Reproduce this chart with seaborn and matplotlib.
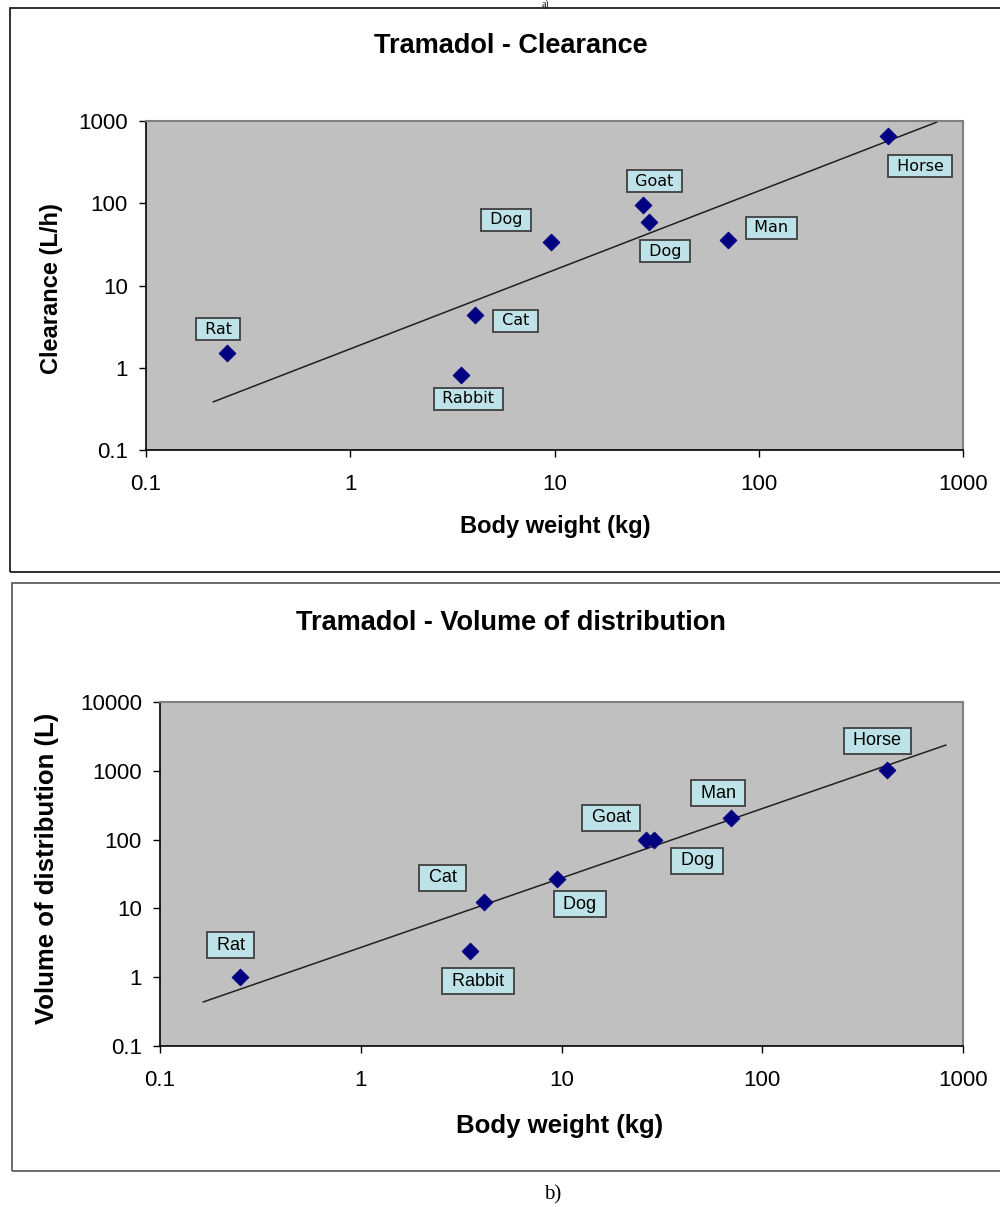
import matplotlib
matplotlib.use("Agg")
import matplotlib.pyplot as plt
import seaborn as sns
import pandas as pd
from matplotlib.patches import Rectangle

# ---------------- data ----------------
species = ["Rat", "Rabbit", "Cat", "Dog", "Goat", "Dog", "Man", "Horse"]

bw_cl = [0.25, 3.5, 4.1, 9.6, 27, 29, 71, 430]
clearance = [1.5, 0.82, 4.4, 34, 95, 59, 36, 657]
trend_cl_x = [0.213, 746]
trend_cl_y = [0.384, 972]

bw_vd = [0.25, 3.5, 4.1, 9.5, 26.5, 29, 70, 420]
vol_dist = [1.0, 2.4, 12.4, 26.7, 99, 99, 206, 1030]
trend_vd_x = [0.164, 823]
trend_vd_y = [0.436, 2371]

x_ticks = [0.1, 1, 10, 100, 1000]
x_tick_labels = ["0.1", "1", "10", "100", "1000"]
y_ticks_cl = [0.1, 1, 10, 100, 1000]
y_tick_labels_cl = ["0.1", "1", "10", "100", "1000"]
y_ticks_vd = [0.1, 1, 10, 100, 1000, 10000]
y_tick_labels_vd = ["0.1", "1", "10", "100", "1000", "10000"]

# label offsets (pixels) relative to each point
off_cl = [(-9, 24), (7, -24), (40, -6), (-45, 22), (12, 24), (16, -29), (43, 12), (32, -30)]
off_vd = [(-9, 32), (8, -30), (-41, 24), (23, -25), (-35, 22), (43, -21), (-13, 25), (-10, 29)]

# ---------------- style ----------------
sns.set_style("white")
plt.rcParams["font.family"] = ["Liberation Sans", "DejaVu Sans"]
plt.rcParams["text.color"] = "black"
plt.rcParams["axes.labelcolor"] = "black"
plt.rcParams["xtick.color"] = "black"
plt.rcParams["ytick.color"] = "black"

W, H = 1000, 1207
fig = plt.figure(figsize=(W / 100, H / 100), dpi=100)

PLOT_BG = "#C0C0C0"
MARK = "#000080"
BOX_FC = "#BDE3E8"
BOX_EC = "#404040"


def px2fig(x, y):
    return x / W, 1 - y / H


# panel frames
fig.add_artist(Rectangle(px2fig(10, 572), 1.0, (572 - 8) / H, transform=fig.transFigure,
                         fill=False, ec="#202020", lw=1.3))
fig.add_artist(Rectangle(px2fig(12, 1171), 1.0, (1171 - 583) / H, transform=fig.transFigure,
                         fill=False, ec="#606060", lw=1.3))

fig.text(*px2fig(545, 4), "a)", ha="center", va="center", fontsize=7,
         family=["Liberation Serif", "DejaVu Serif"])
fig.text(*px2fig(553, 1195), "b)", ha="center", va="center", fontsize=15,
         family=["Liberation Serif", "DejaVu Serif"])


def make_panel(rect_px, xs, ys, tx, ty, yt, ytl, ylim, offs, title, title_y, ylabel,
               ylab_pos, xlab_pos, lab_font, lab_size, lab_pad, tick_size, label_size):
    l, t, r, b = rect_px
    ax = fig.add_axes([l / W, 1 - b / H, (r - l) / W, (b - t) / H])
    ax.set_facecolor(PLOT_BG)
    ax.set_xscale("log")
    ax.set_yscale("log")
    ax.set_xlim(0.1, 1000)
    ax.set_ylim(*ylim)

    sns.lineplot(x=tx, y=ty, color="#202020", lw=1.1, ax=ax, sort=True, legend=False)
    df = pd.DataFrame({"bw": xs, "val": ys, "species": species})
    sns.scatterplot(data=df, x="bw", y="val", marker="D", s=75, color=MARK,
                    edgecolor=MARK, linewidth=0.5, ax=ax, legend=False, zorder=5)

    for (x, y, name, (dx, dy)) in zip(xs, ys, species, offs):
        ax.annotate(" " + name + " ", xy=(x, y), xytext=(dx, dy), textcoords="offset pixels",
                    ha="center", va="center", fontsize=lab_size, family=lab_font,
                    color="black", zorder=6,
                    bbox=dict(boxstyle=f"square,pad={lab_pad}", fc=BOX_FC, ec=BOX_EC, lw=1.3))

    ax.set_xticks(x_ticks)
    ax.set_xticklabels(x_tick_labels)
    ax.set_yticks(yt)
    ax.set_yticklabels(ytl)
    ax.minorticks_off()
    ax.tick_params(axis="both", direction="out", length=5, width=1, color="black",
                   labelsize=tick_size, labelcolor="black", pad=8, bottom=True, left=True)
    ax.tick_params(axis="x", pad=12)

    for side in ["top", "right"]:
        ax.spines[side].set_color("#808080")
        ax.spines[side].set_linewidth(1.5)
    for side in ["left", "bottom"]:
        ax.spines[side].set_color("black")
        ax.spines[side].set_linewidth(1.2)

    ax.set_xlabel("Body weight (kg)", fontsize=label_size, fontweight="bold", va="center")
    ax.xaxis.set_label_coords((xlab_pos[0] - l) / (r - l), (b - xlab_pos[1]) / (b - t))
    ax.set_ylabel(ylabel, fontsize=label_size, fontweight="bold", va="center")
    ax.yaxis.set_label_coords((ylab_pos[0] - l) / (r - l), (b - ylab_pos[1]) / (b - t))

    fig.text(*px2fig(511, title_y), title, ha="center", va="center",
             fontsize=19.5, fontweight="bold", color="black")
    return ax


make_panel((146, 121, 963, 450), bw_cl, clearance, trend_cl_x, trend_cl_y,
           y_ticks_cl, y_tick_labels_cl, (0.1, 1000), off_cl,
           "Tramadol - Clearance", 46, "Clearance (L/h)",
           (52, 289), (555, 526), ["DejaVu Sans"], 11.5, 0.22, 16, 17)

make_panel((160, 702, 963, 1046), bw_vd, vol_dist, trend_vd_x, trend_vd_y,
           y_ticks_vd, y_tick_labels_vd, (0.1, 10000), off_vd,
           "Tramadol - Volume of distribution", 623, "Volume of distribution (L)",
           (47, 868), (560, 1126), ["Liberation Sans", "DejaVu Sans"], 13, 0.25, 16, 18.5)

fig.savefig("out.png", dpi=100)
